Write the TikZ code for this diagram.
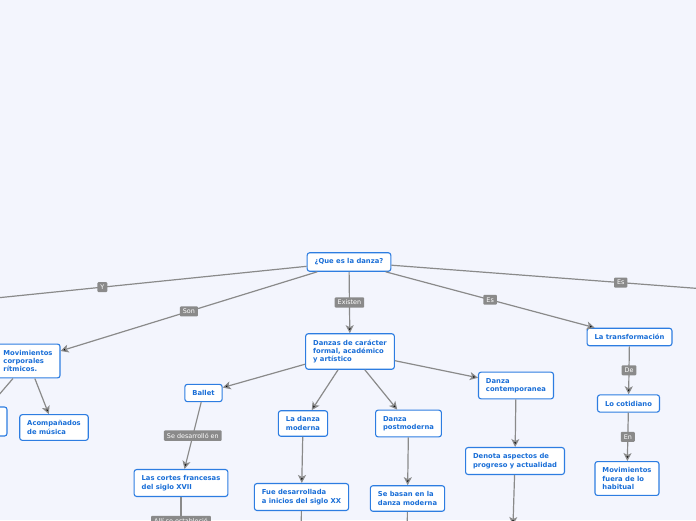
\documentclass[tikz,border=0pt]{standalone}
\usepackage{fontspec}
\setmainfont{DejaVu Sans}
\usetikzlibrary{arrows.meta,positioning}

\definecolor{paper}{RGB}{243,245,253}
\definecolor{topicline}{RGB}{45,125,225}
\definecolor{topictext}{RGB}{25,110,215}
\definecolor{linkgray}{RGB}{138,138,138}

\begin{document}
\begin{tikzpicture}[x=1pt, y=-1pt, >={Stealth[length=8pt,width=8pt,inset=2pt]},
    topic/.style={draw=topicline, line width=1.1pt, fill=white, rounded corners=2.5pt,
        text=topictext, font=\fontsize{6.8}{8.3}\selectfont\bfseries, align=left,
        inner xsep=7.5pt, inner ysep=6pt},
    word/.style={fill=linkgray, text=white, font=\fontsize{6.4}{7}\selectfont,
        inner xsep=3pt, inner ysep=2.6pt, rounded corners=1pt},
    link/.style={draw=linkgray, line width=1.2pt}]

    % Canvas
    \fill [paper] (0,0) rectangle (696,520);
    \useasboundingbox (0,0) rectangle (696,520);
    \clip (0,0) rectangle (696,520);

    % Nodes
    \node [topic] (danza)     at (349,262)   {¿Que es la danza?};
    \node [topic] (formal)    at (350,351.5) {Danzas de carácter\\formal, académico\\y artístico};
    \node [topic] (ritmo)     at (28,361)    {Movimientos\\corporales\\rítmicos.};
    \node [topic, minimum width=62pt, minimum height=29pt] (ritmoside) at (-24,421.5) {};
    \node [topic] (musica)    at (54,427.5)  {Acompañados\\de música};
    \node [topic] (ballet)    at (203.5,393) {Ballet};
    \node [topic] (cortes)    at (181,483)   {Las cortes francesas\\del siglo XVII};
    \node [topic] (moderna)   at (303,423.5) {La danza\\moderna};
    \node [topic] (inicios)   at (301.5,497) {Fue desarrollada\\a inicios del siglo XX};
    \node [topic] (postmod)   at (408.5,423.5) {Danza\\postmoderna};
    \node [topic] (basan)     at (407.5,498.5) {Se basan en la\\danza moderna};
    \node [topic] (contemp)   at (516,385.5) {Danza\\contemporanea};
    \node [topic] (progreso)  at (515,461)   {Denota aspectos de\\progreso y actualidad};
    \node [topic] (transf)    at (629.5,337) {La transformación};
    \node [topic] (cotidiano) at (628.5,403.5) {Lo cotidiano};
    \node [topic] (habitual)  at (627,478.5) {Movimientos\\fuera de lo\\habitual};

    % Off-canvas ends
    \coordinate (westY)   at (-102,308);
    \coordinate (eastEs)  at (850,300);
    \coordinate (cortesdown)   at (181,545);
    \coordinate (iniciosdown)  at (301,560);
    \coordinate (basandown)    at (407,560);
    \coordinate (progresodown) at (513,525);

    % Paths
    \path [link]     (danza) edge node [word] {Y}        (westY);
    \path [->, link] (danza) edge node [word] {Son}      (ritmo);
    \path [->, link] (danza) edge node [word] {Existen}  (formal);
    \path [->, link] (danza) edge node [word] {Es}       (transf);
    \path [link]     (danza) edge node [word] {Es}       (eastEs);

    \path [->, link] (ritmo) edge (ritmoside);
    \path [->, link] (ritmo) edge (musica);

    \path [->, link] (formal) edge (ballet);
    \path [->, link] (formal) edge (moderna);
    \path [->, link] (formal) edge (postmod);
    \path [->, link] (formal) edge (contemp);

    \path [->, link] (ballet)   edge node [word] {Se desarrolló en\ } (cortes);
    \path [link]     (cortes)   edge node [word] {Allí se estableció} (cortesdown);
    \path [->, link] (moderna)  edge (inicios);
    \path [link]     (inicios)  edge (iniciosdown);
    \path [->, link] (postmod)  edge (basan);
    \path [link]     (basan)    edge (basandown);
    \path [->, link] (contemp)  edge (progreso);
    \path [->, link] (progreso) edge (progresodown);

    \path [->, link] (transf)    edge node [word] {De} (cotidiano);
    \path [->, link] (cotidiano) edge node [word] {En} (habitual);

\end{tikzpicture}
\end{document}
